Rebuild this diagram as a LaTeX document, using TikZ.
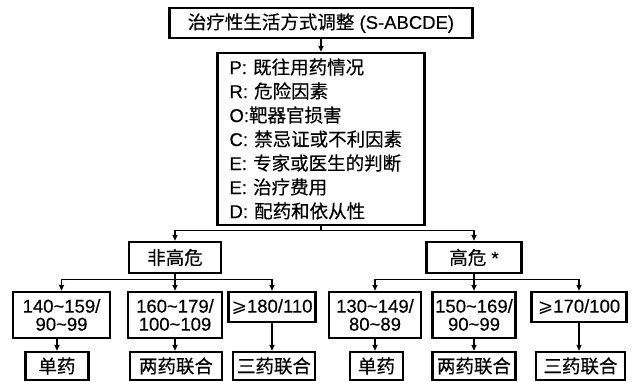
\documentclass[tikz,border=0pt]{standalone}
\usepackage{fontspec}
\setmainfont{Liberation Sans}[FakeBold=0.35]
\newfontfamily\cjk{Noto Sans CJK SC}[FakeBold=0.35]
\newfontfamily\symf{DejaVu Sans}
\usetikzlibrary{arrows.meta}
\newcommand\zh[1]{{\cjk #1}}
\newcommand\tld{\textasciitilde}
\begin{document}
\begin{tikzpicture}[x=1pt,y=-1pt,
  bx/.style={draw=black, line width=2.3pt, inner sep=0pt, align=center,
    font=\fontsize{18.5}{18}\selectfont},
  arr/.style={line width=1.2pt, -{Triangle[length=6pt,width=5pt]}},
  ln/.style={line width=1.2pt}]
\useasboundingbox[fill=white] (0,0) rectangle (638,381);
% top
\node[bx, minimum width=303pt, minimum height=30pt] (top) at (321,23) {\zh{治疗性生活方式调整} (S-ABCDE)};
\node[bx, minimum width=207pt, minimum height=172pt, text width=183pt, align=left,
  font=\fontsize{18.5}{24}\selectfont] (list) at (321,139)
  {P: \zh{既往用药情况}\\R: \zh{危险因素}\\O:\zh{靶器官损害}\\C: \zh{禁忌证或不利因素}\\E: \zh{专家或医生的判断}\\E: \zh{治疗费用}\\D: \zh{配药和依从性}};
% level 2
\node[bx, minimum width=92pt, minimum height=31pt] (nh) at (175,257.5) {\zh{非高危}};
\node[bx, minimum width=95pt, minimum height=31pt] (hr) at (474,257.5) {\zh{高危} *};
% level 3
\node[bx, minimum width=97pt, minimum height=46pt] (b1) at (61.5,315) {140\tld159/\\90\tld99};
\node[bx, minimum width=94pt, minimum height=46pt] (b2) at (175,315) {160\tld179/\\100\tld109};
\node[bx, minimum width=87pt, minimum height=30pt] (b3) at (272,307) {{\symf ⩾}180/110};
\node[bx, minimum width=92pt, minimum height=46pt] (b4) at (375,315) {130\tld149/\\80\tld89};
\node[bx, minimum width=83pt, minimum height=46pt] (b5) at (474,315) {150\tld169/\\90\tld99};
\node[bx, minimum width=95pt, minimum height=30pt] (b6) at (579,307) {{\symf ⩾}170/100};
% level 4
\node[bx, minimum width=63pt, minimum height=28pt] (d1) at (57,366) {\zh{单药}};
\node[bx, minimum width=92pt, minimum height=28pt] (d2) at (176,366) {\zh{两药联合}};
\node[bx, minimum width=82pt, minimum height=28pt] (d3) at (274,366) {\zh{三药联合}};
\node[bx, minimum width=53pt, minimum height=28pt] (d4) at (376.5,366) {\zh{单药}};
\node[bx, minimum width=83pt, minimum height=28pt] (d5) at (474,366) {\zh{两药联合}};
\node[bx, minimum width=89pt, minimum height=28pt] (d6) at (580.5,366) {\zh{三药联合}};
% connectors
\draw[arr] (top) -- (list);
\draw[ln] (list.south) -- ++(0,4) coordinate (j1);
\draw[arr] (j1) -| (nh.north);
\draw[arr] (j1) -| (hr.north);
\draw[ln] (nh.south) -- ++(0,5) coordinate (j2);
\draw[arr] (j2) -| (b1.north);
\draw[arr] (j2) -- (b2.north);
\draw[arr] (j2) -| (b3.north);
\draw[ln] (hr.south) -- ++(0,5) coordinate (j3);
\draw[arr] (j3) -| (b4.north);
\draw[arr] (j3) -- (b5.north);
\draw[arr] (j3) -| (b6.north);
\draw[arr] (b1.south -| d1.north) -- (d1.north);
\draw[arr] (b2.south) -- (b2.south |- d2.north);
\draw[arr] (b3.south) -- (b3.south |- d3.north);
\draw[arr] (b4.south) -- (b4.south |- d4.north);
\draw[arr] (b5.south) -- (d5.north);
\draw[arr] (b6.south) -- (b6.south |- d6.north);
\end{tikzpicture}
\end{document}
